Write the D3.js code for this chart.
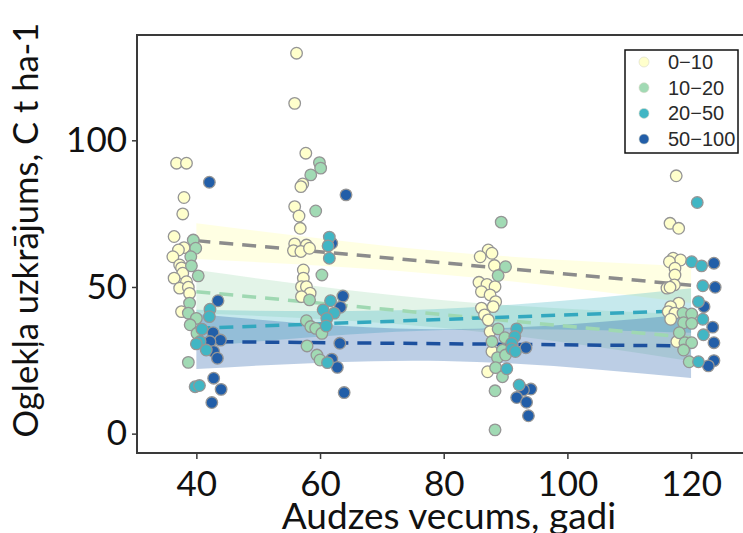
<!DOCTYPE html>
<head>
<script src="https://d3js.org/d3.v7.min.js"></script>
<meta charset="utf-8">
<style>
body { margin: 0; background: #fff; }
svg text { font-family: Lato, "Open Sans", sans-serif; }
</style>
</head>
<body>
<svg id="chart"></svg>
<script>

// chart data (age, carbon)

var groups = ["0\u221210", "10\u221220", "20\u221250", "50\u2212100"];
var colors = ["#ffffcc", "#a1dab4", "#41b6c4", "#225ea8"];
var lineColors = ["#8c8c8c", "#9fd8b2", "#33a8bf", "#1c509e"];

var pts0_10 = [
  [36.8, 92.2], [38.4, 92.2], [38.0, 80.5], [37.8, 74.9], [36.4, 67.2], [38.0, 63.4],
  [37.1, 62.6], [36.2, 60.3], [37.3, 57.5], [37.6, 56.5], [37.8, 54.7], [36.4, 53.0],
  [38.4, 51.8], [37.3, 49.6], [38.7, 49.9], [38.9, 47.8], [37.6, 41.6],
  [56.2, 129.7], [55.9, 112.6], [57.7, 95.6], [57.2, 85.1], [56.9, 84.2], [55.9, 77.4],
  [56.6, 74.2], [56.8, 70.0], [55.9, 64.7], [57.8, 64.3], [55.7, 62.4], [56.9, 62.1],
  [58.3, 63.2], [57.3, 55.8], [57.3, 53.0], [57.0, 50.1], [57.8, 50.1], [58.4, 47.9], [57.0, 46.7],
  [87.2, 62.6], [85.9, 60.3], [87.8, 61.5], [88.2, 57.3], [85.7, 51.6], [87.0, 50.9],
  [88.3, 50.1], [86.1, 48.4], [87.5, 47.3], [88.4, 45.0], [88.0, 43.3], [86.1, 42.8],
  [86.6, 40.5], [87.2, 38.8], [87.5, 34.8], [87.8, 28.0], [87.1, 21.1],
  [117.6, 87.9], [116.6, 71.7], [118.0, 70.0], [117.1, 59.8], [118.3, 59.2], [116.5, 58.6],
  [117.4, 56.4], [117.4, 54.1], [117.3, 50.7], [116.1, 49.6], [116.6, 49.9], [118.0, 44.5],
  [116.7, 43.3], [116.3, 41.6], [117.4, 41.1], [116.7, 39.0], [117.7, 31.4]
];
var pts10_20 = [
  [39.5, 66.0], [39.9, 63.2], [39.1, 60.3], [39.2, 57.2], [40.3, 53.8], [38.9, 44.5],
  [38.7, 41.1], [40.0, 39.3], [39.0, 37.1], [40.1, 34.2], [38.7, 24.3],
  [59.9, 92.4], [60.1, 90.5], [58.5, 88.2], [59.3, 75.9], [60.3, 54.1], [58.3, 45.6],
  [57.8, 38.5], [58.5, 36.5], [59.3, 35.9], [60.3, 34.2], [57.9, 29.9], [59.5, 26.8], [60.0, 25.1],
  [89.3, 72.1], [90.0, 56.9], [88.8, 53.9], [88.8, 35.7], [89.9, 32.7], [87.8, 31.4],
  [89.5, 28.5], [88.7, 25.9], [90.0, 26.8], [88.4, 22.5], [89.5, 19.4], [88.3, 14.6], [88.3, 1.3],
  [118.7, 41.1], [120.1, 40.8], [118.8, 37.8], [120.1, 37.6], [118.1, 34.4], [119.0, 31.0],
  [120.1, 31.0], [118.8, 28.5], [119.7, 24.5]
];
var pts20_50 = [
  [42.2, 42.4], [42.1, 39.9], [40.9, 35.6], [40.6, 31.4], [40.0, 30.6], [41.6, 28.5],
  [39.8, 16.0], [40.5, 16.4],
  [61.5, 67.0], [61.3, 64.0], [61.5, 59.8], [61.7, 45.3], [60.5, 42.2], [62.3, 41.1],
  [61.1, 39.3], [61.0, 36.7], [61.2, 24.2],
  [91.8, 35.7], [91.5, 33.1], [91.0, 30.8], [91.0, 28.9], [91.6, 28.0], [90.2, 22.1], [92.2, 16.6],
  [121.0, 78.8], [120.1, 58.6], [121.7, 57.2], [121.9, 50.4], [121.2, 45.0], [121.9, 39.0],
  [122.0, 33.7], [121.2, 24.5]
];
var pts50_100 = [
  [42.1, 85.7], [43.5, 45.3], [42.7, 34.4], [43.9, 31.9], [42.2, 31.4], [42.8, 28.0],
  [43.4, 25.7], [42.8, 18.9], [44.0, 15.1], [42.5, 10.6],
  [64.2, 81.4], [61.9, 64.9], [63.7, 46.9], [63.3, 43.1], [63.2, 30.8], [61.9, 25.4],
  [62.8, 22.6], [63.9, 14.0],
  [93.3, 29.3], [94.1, 15.2], [92.9, 14.9], [91.8, 12.3], [93.4, 10.7], [93.7, 6.1],
  [123.7, 58.1], [123.9, 49.9], [122.1, 43.3], [123.5, 36.3], [123.7, 31.0], [123.7, 24.9], [122.8, 23.1]
];

// fitted lines and confidence bands
var fitAge = [40, 120];
var fit0_10 = [65.8, 50.6];
var fit10_20 = [48.4, 32.7];
var fit20_50 = [35.9, 42.0];
var fit50_100 = [31.4, 29.9];

var bandAge = [40, 80, 120];
var lo0_10 = [59.5, 54.2, 44.5], hi0_10 = [71.7, 62.1, 57.0];
var lo10_20 = [41.0, 36.0, 24.7], hi10_20 = [55.8, 45.5, 40.7];
var lo20_50 = [29.6, 35.3, 34.4], hi20_50 = [42.2, 42.6, 49.6];
var lo50_100 = [22.0, 24.8, 19.0], hi50_100 = [40.8, 35.6, 40.8];

var xTicks = [40, 60, 80, 100, 120];
var yTicks = [0, 50, 100];

var allPts = [pts0_10, pts10_20, pts20_50, pts50_100];
var fits = [fit0_10, fit10_20, fit20_50, fit50_100];
var los = [lo0_10, lo10_20, lo20_50, lo50_100];
var his = [hi0_10, hi10_20, hi20_50, hi50_100];
var bandAlpha = [0.55, 0.3, 0.3, 0.3];

// chart parameters
var width = 743, height = 533;
var plotLeft = 137, plotTop = 35, plotBottom = 453, plotRight = 743;

var svg = d3.select("#chart")
    .attr("width", width)
    .attr("height", height);

var x = d3.scaleLinear().domain([30.4, 128.4]).range([plotLeft, plotRight]);
var y = d3.scaleLinear().domain([-6.6, 135.9]).range([plotBottom, plotTop]);

// bands
var area = d3.area()
    .x((d, i) => x(bandAge[i]))
    .curve(d3.curveNatural);
los.forEach((lo, g) => {
  svg.append("path")
    .attr("d", area.y0((d, i) => y(lo[i])).y1((d, i) => y(his[g][i]))(lo))
    .attr("fill", colors[g])
    .attr("fill-opacity", bandAlpha[g]);
});

// fit lines
fits.forEach((f, g) => {
  svg.append("line")
    .attr("x1", x(fitAge[0])).attr("y1", y(f[0]))
    .attr("x2", x(fitAge[1])).attr("y2", y(f[1]))
    .attr("stroke", lineColors[g])
    .attr("stroke-width", 3.5)
    .attr("stroke-dasharray", "14,9");
});

// points
[0, 1, 3, 2].forEach((g) => {
  svg.append("g").selectAll("circle")
    .data(allPts[g])
    .join("circle")
    .attr("cx", d => x(d[0]))
    .attr("cy", d => y(d[1]))
    .attr("r", 5.8)
    .attr("fill", colors[g])
    .attr("stroke", "#959595")
    .attr("stroke-width", 1.3);
});

// frame
svg.append("path")
  .attr("d", `M${plotRight},${plotTop}H${plotLeft}V${plotBottom}H${plotRight}`)
  .attr("fill", "none")
  .attr("stroke", "#3a3a3a")
  .attr("stroke-width", 2);

// axes
var yAxis = svg.append("g")
  .attr("transform", `translate(${plotLeft},0)`)
  .call(d3.axisLeft(y).tickValues(yTicks).tickSize(5).tickPadding(5));
var xAxis = svg.append("g")
  .attr("transform", `translate(0,${plotBottom})`)
  .call(d3.axisBottom(x).tickValues(xTicks).tickSize(6).tickPadding(12));
[xAxis, yAxis].forEach(a => {
  a.select(".domain").remove();
  a.selectAll(".tick line").attr("stroke", "#3a3a3a").attr("stroke-width", 1.5);
  a.selectAll("text").attr("font-size", 35).attr("fill", "#111")
    .style("font-family", "Lato, sans-serif");
});

// titles
svg.append("text")
  .attr("x", 449).attr("y", 529)
  .attr("text-anchor", "middle")
  .attr("font-size", 37).attr("fill", "#111")
  .text("Audzes vecums, gadi");
svg.append("text")
  .attr("transform", "translate(38,230) rotate(-90)")
  .attr("text-anchor", "middle")
  .attr("font-size", 34.5).attr("fill", "#111")
  .text("Oglekļa uzkrājums, C t ha-1");

// legend
var legend = svg.append("g");
legend.append("rect")
  .attr("x", 625).attr("y", 50).attr("width", 113).attr("height", 103)
  .attr("fill", "#fff").attr("stroke", "#111").attr("stroke-width", 1.5);
groups.forEach((name, i) => {
  legend.append("circle")
    .attr("cx", 644).attr("cy", 62 + i * 25.7).attr("r", 5)
    .attr("fill", colors[i]).attr("stroke", "#d8d8c8").attr("stroke-width", 0.6);
  legend.append("text")
    .attr("x", 668).attr("y", 62 + i * 25.7 + 7)
    .attr("font-size", 20).attr("fill", "#2a2a2a")
    .style("font-family", "'Liberation Sans', Arial, sans-serif")
    .text(name);
});

</script>
</body>
